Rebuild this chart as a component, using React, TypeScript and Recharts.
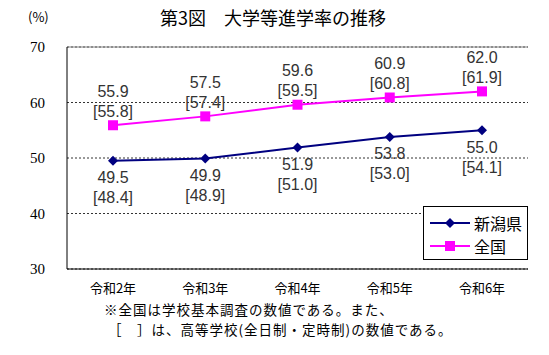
import {
  LineChart,
  Line,
  XAxis,
  YAxis,
  CartesianGrid,
  Legend,
  ReferenceLine,
} from "recharts";

const years = ["令和2年", "令和3年", "令和4年", "令和5年", "令和6年"];
const niigata = [49.5, 49.9, 51.9, 53.8, 55.0];
const niigataHighSchool = [48.4, 48.9, 51.0, 53.0, 54.1];
const national = [55.9, 57.5, 59.6, 60.9, 62.0];
const nationalHighSchool = [55.8, 57.4, 59.5, 60.8, 61.9];
const yTicks = [30, 40, 50, 60, 70];

const NAVY = "#000080";
const MAGENTA = "#ff00ff";
const GOTHIC = "'Noto Sans CJK JP', 'Noto Sans', sans-serif";
const LABEL_FONT = "'Liberation Sans', Arial, sans-serif";

const data = years.map((year, i) => ({
  year,
  niigata: niigata[i],
  niigataHs: niigataHighSchool[i],
  national: national[i],
  nationalHs: nationalHighSchool[i],
}));

function Diamond({ cx, cy }: any) {
  if (cx == null || cy == null) return null;
  const r = 5;
  return (
    <polygon
      points={`${cx},${cy - r} ${cx + r},${cy} ${cx},${cy + r} ${cx - r},${cy}`}
      fill={NAVY}
    />
  );
}

function Square({ cx, cy }: any) {
  if (cx == null || cy == null) return null;
  return <rect x={cx - 5} y={cy - 5} width={10} height={10} fill={MAGENTA} />;
}

// value on the first line, high-school figure in brackets below it
function makeLabel(main: number[], sub: number[], above: boolean) {
  return (props: any) => {
    const { x, y, index } = props;
    if (x == null || y == null) return null;
    const y1 = above ? y - 34 : y + 17;
    const y2 = above ? y - 14 : y + 37;
    return (
      <g fill="#333" fontSize={16} fontFamily={LABEL_FONT} textAnchor="middle">
        <text x={x} y={y1} dominantBaseline="central">
          {main[index].toFixed(1)}
        </text>
        <text x={x} y={y2} dominantBaseline="central">
          [{sub[index].toFixed(1)}]
        </text>
      </g>
    );
  };
}

function LegendBox() {
  const rows = [
    { name: "新潟県", color: NAVY, dot: "diamond" },
    { name: "全国", color: MAGENTA, dot: "square" },
  ];
  return (
    <div>
      {rows.map((r) => (
        <div
          key={r.name}
          style={{ display: "flex", alignItems: "center", height: 23 }}
        >
          <svg width={44} height={14} style={{ marginLeft: 4 }}>
            <line x1={2} x2={42} y1={7} y2={7} stroke={r.color} strokeWidth={2} />
            {r.dot === "diamond" ? (
              <polygon points="22,2 27,7 22,12 17,7" fill={r.color} />
            ) : (
              <rect x={17} y={2} width={10} height={10} fill={r.color} />
            )}
          </svg>
          <span
            style={{
              fontFamily: GOTHIC,
              fontSize: 16,
              color: "#000",
              marginLeft: 2,
              lineHeight: "16px",
            }}
          >
            {r.name}
          </span>
        </div>
      ))}
    </div>
  );
}

const noteStyle = {
  position: "absolute" as const,
  fontFamily: GOTHIC,
  fontSize: 13.5,
  letterSpacing: 1,
  lineHeight: "16px",
  whiteSpace: "nowrap" as const,
};

export default function App() {
  return (
    <div
      style={{
        position: "absolute",
        left: 0,
        top: 0,
        width: 549,
        height: 355,
        background: "#fff",
      }}
    >
      <div
        style={{
          position: "absolute",
          left: 160,
          top: 5,
          fontFamily: GOTHIC,
          fontSize: 18,
          lineHeight: "24px",
          whiteSpace: "nowrap",
        }}
      >
        第3図　大学等進学率の推移
      </div>
      <div
        style={{
          position: "absolute",
          left: 28,
          top: 8,
          fontFamily: GOTHIC,
          fontSize: 13,
          lineHeight: "18px",
        }}
      >
        (%)
      </div>

      <LineChart
        width={549}
        height={300}
        data={data}
        margin={{ top: 47, right: 21, left: 0, bottom: 0 }}
        style={{ position: "absolute", left: 0, top: 0 }}
      >
        <CartesianGrid
          vertical={false}
          stroke="#333"
          strokeDasharray="2 2"
        />
        <XAxis
          dataKey="year"
          height={31}
          padding={{ left: 46, right: 46 }}
          axisLine={{ stroke: "#000" }}
          tickLine={false}
          tickMargin={9}
          tick={{ fill: "#000", fontSize: 13, fontFamily: GOTHIC }}
        />
        <YAxis
          domain={[30, 70]}
          ticks={yTicks}
          width={67}
          axisLine={{ stroke: "#000" }}
          tickLine={false}
          tick={{
            fill: "#000",
            fontSize: 15,
            fontFamily: "'Liberation Serif', serif",
            dx: -14,
          }}
        />
        <YAxis
          yAxisId="frame"
          orientation="right"
          domain={[30, 70]}
          width={0}
          tick={false}
          tickLine={false}
          axisLine={{ stroke: "#808080" }}
        />
        <ReferenceLine y={70} stroke="#808080" strokeDasharray="0" />
        <Legend
          layout="vertical"
          align="center"
          verticalAlign="middle"
          content={() => <LegendBox />}
          wrapperStyle={{
            left: 423,
            top: 206,
            width: 105,
            height: 54,
            boxSizing: "border-box",
            border: "1px solid #000",
            background: "#fff",
            paddingTop: 4,
          }}
        />
        <Line
          dataKey="niigata"
          name="新潟県"
          stroke={NAVY}
          strokeWidth={2}
          dot={<Diamond />}
          activeDot={false}
          label={makeLabel(niigata, niigataHighSchool, false)}
          isAnimationActive={false}
        />
        <Line
          dataKey="national"
          name="全国"
          stroke={MAGENTA}
          strokeWidth={2}
          dot={<Square />}
          activeDot={false}
          label={makeLabel(national, nationalHighSchool, true)}
          isAnimationActive={false}
        />
      </LineChart>

      <div style={{ ...noteStyle, left: 104, top: 301 }}>
        ※全国は学校基本調査の数値である。また、
      </div>
      <div style={{ ...noteStyle, left: 108, top: 321 }}>
        ［　］は、高等学校(全日制・定時制)の数値である。
      </div>
    </div>
  );
}
